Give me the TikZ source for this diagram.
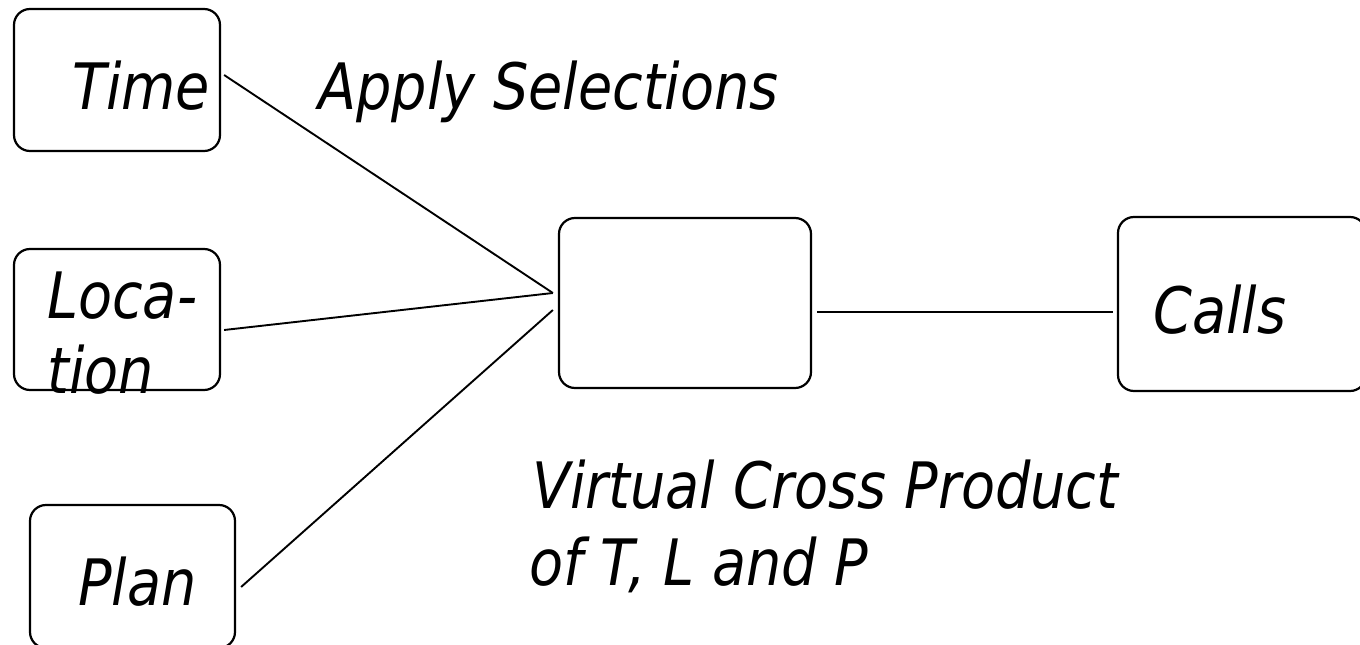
\documentclass[tikz,border=0pt]{standalone}
\usepackage{fontspec}
\setmainfont{DejaVu Sans}[FakeStretch=0.87]
\begin{document}
\begin{tikzpicture}[x=1pt,y=-1pt,
  box/.style={draw, line width=2.2pt, rounded corners=16pt, inner sep=0pt},
  lbl/.style={anchor=base west, inner sep=0pt, font=\fontsize{64}{75}\selectfont\itshape},
  conn/.style={line width=1.9pt}]
\useasboundingbox (0,0) rectangle (1360,645);
\node[box, minimum width=206pt, minimum height=142pt] (time) at (117,80) {};
\node[box, minimum width=206pt, minimum height=141pt] (loc) at (117,319.5) {};
\node[box, minimum width=205pt, minimum height=143pt] (plan) at (132.5,576.5) {};
\node[box, minimum width=252pt, minimum height=170pt] (mid) at (685,303) {};
\node[box, minimum width=248pt, minimum height=174pt] (calls) at (1242,304) {};
\node[lbl] (timet) at (72,109) {Time};
\node[lbl] (apply) at (318,109) {Apply Selections};
\node[lbl] (loc1) at (47,318) {Loca-};
\node[lbl] (loc2) at (47,393) {tion};
\node[lbl] (plant) at (78,605) {Plan};
\node[lbl] (callst) at (1153,333) {Calls};
\node[lbl] (vcp1) at (532,508) {Virtual Cross Product};
\node[lbl] (vcp2) at (529,585) {of T, L and P};
\draw[conn] ([xshift=3pt,yshift=5pt]time.east) -- ([xshift=-5pt,yshift=10pt]mid.west);
\draw[conn] ([xshift=3pt,yshift=-10.5pt]loc.east) -- ([xshift=-5pt,yshift=10pt]mid.west);
\draw[conn] ([xshift=5pt,yshift=-10.5pt]plan.east) -- ([xshift=-5pt,yshift=-7pt]mid.west);
\draw[conn] ([xshift=5pt,yshift=-9pt]mid.east) -- ([xshift=-4pt,yshift=-8pt]calls.west);
\end{tikzpicture}
\end{document}
